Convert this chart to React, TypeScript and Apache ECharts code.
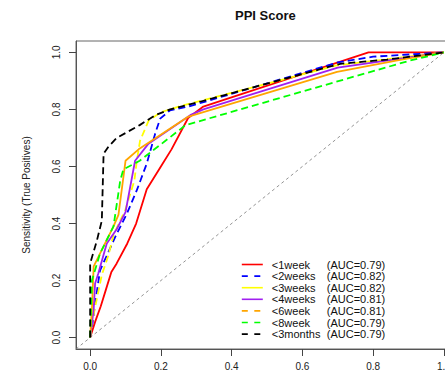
import React, { useEffect, useRef } from "react";
import * as echarts from "echarts";

const seriesNames = ["<1week", "<2weeks", "<3weeks", "<4weeks", "<6week", "<8week", "<3months"];
const aucLabels = ["(AUC=0.79)", "(AUC=0.82)", "(AUC=0.82)", "(AUC=0.81)", "(AUC=0.81)", "(AUC=0.79)", "(AUC=0.79)"];
const tickValues = [0, 0.2, 0.4, 0.6, 0.8, 1.0];

const roc1week = [[0,0],[0.014,0.055],[0.03,0.11],[0.045,0.17],[0.06,0.23],[0.075,0.26],[0.105,0.33],[0.13,0.4],[0.16,0.52],[0.2,0.6],[0.23,0.66],[0.277,0.77],[0.32,0.81],[0.787,1.0],[1,1]];
const roc2weeks = [[0,0],[0.008,0.06],[0.014,0.12],[0.028,0.236],[0.071,0.353],[0.104,0.435],[0.132,0.517],[0.16,0.61],[0.184,0.716],[0.198,0.768],[0.226,0.797],[0.278,0.81],[0.7,0.965],[0.8,0.985],[1,1]];
const roc3weeks = [[0,0],[0.005,0.05],[0.014,0.107],[0.023,0.16],[0.033,0.22],[0.052,0.29],[0.066,0.36],[0.1,0.45],[0.125,0.55],[0.132,0.62],[0.141,0.69],[0.165,0.76],[0.2,0.79],[0.25,0.81],[0.7,0.955],[1,1]];
const roc4weeks = [[0,0],[0.01,0.1],[0.014,0.19],[0.023,0.225],[0.047,0.33],[0.075,0.38],[0.1,0.44],[0.127,0.62],[0.165,0.68],[0.283,0.78],[0.32,0.8],[0.7,0.947],[1,1]];
const roc6week = [[0,0],[0.005,0.1],[0.01,0.25],[0.066,0.39],[0.08,0.43],[0.1,0.62],[0.137,0.66],[0.278,0.775],[0.698,0.932],[0.88,0.975],[1,1]];
const roc8week = [[0,0],[0.005,0.2],[0.028,0.295],[0.066,0.39],[0.085,0.55],[0.094,0.59],[0.14,0.62],[0.27,0.745],[0.9,0.97],[1,1]];
const roc3months = [[0,0],[0,0.26],[0.019,0.34],[0.033,0.41],[0.038,0.645],[0.052,0.67],[0.075,0.7],[0.14,0.745],[0.184,0.78],[0.226,0.8],[0.31,0.827],[0.707,0.96],[0.84,0.975],[1,1]];
const diagonal = [[-0.04,-0.04],[1.04,1.04]];

const curves = [roc1week, roc2weeks, roc3weeks, roc4weeks, roc6week, roc8week, roc3months];
const colors = ["#FF0000", "#0000FF", "#FFFF00", "#A020F0", "#FFA500", "#00FF00", "#000000"];
const plotDashed = [false, true, true, false, false, true, true];
const legendDashed = [false, true, false, false, true, true, true];

export default function App() {
  const ref = useRef<HTMLDivElement>(null);
  useEffect(() => {
    if (!ref.current) return;
    const chart = echarts.init(ref.current, undefined, { renderer: "svg" });
    const font = "Liberation Sans, Arial, Helvetica, sans-serif";
    const series: any[] = curves.map((d, i) => ({
      name: seriesNames[i],
      type: "line",
      data: d,
      symbol: "none",
      lineStyle: { color: colors[i], width: 1.8, type: plotDashed[i] ? [7, 4] : "solid" },
      itemStyle: { color: colors[i] },
      z: 3 + i,
    }));
    series.push({
      name: "diag",
      type: "line",
      data: diagonal,
      symbol: "none",
      silent: true,
      lineStyle: { color: "#777777", width: 0.8, type: [3, 3] },
      z: 2,
    });
    chart.setOption({
      animation: false,
      backgroundColor: "#ffffff",
      textStyle: { fontFamily: font },
      title: {
        text: "PPI Score",
        left: 235,
        top: 9,
        padding: 0,
        textStyle: { fontFamily: font, fontSize: 13, fontWeight: "bold", color: "#111" },
      },
      grid: {
        left: 76,
        top: 41,
        right: -13,
        bottom: 39,
        show: true,
        borderColor: "#666",
        borderWidth: 1,
        backgroundColor: "transparent",
        outerBoundsMode: "none",
      },
      legend: {
        orient: "vertical",
        left: 241,
        top: 259,
        itemWidth: 21,
        itemHeight: 8,
        itemGap: 0.6,
        padding: 0,
        selectedMode: false,
        data: seriesNames.map((n, i) => ({
          name: n,
          itemStyle: { opacity: 0 },
          lineStyle: { color: colors[i], width: 1.6, type: legendDashed[i] ? [6, 6.5] : "solid" },
        })),
        formatter: (name: string) => {
          const i = seriesNames.indexOf(name);
          return "{n|" + name + "}{a|" + aucLabels[i] + "}";
        },
        textStyle: {
          fontFamily: font,
          fontSize: 11,
          lineHeight: 11,
          color: "#111",
          rich: {
            n: { width: 55, padding: [0, 0, 0, 4], fontSize: 11, lineHeight: 11, fontFamily: font, color: "#111" },
            a: { fontSize: 11, lineHeight: 11, fontFamily: font, color: "#111" },
          },
        },
      },
      xAxis: {
        type: "value",
        min: -0.04,
        max: 1.04,
        name: "1 - Specificity (False Positives)",
        nameLocation: "middle",
        nameGap: 42,
        nameTextStyle: { fontFamily: font, fontSize: 10, color: "#222" },
        splitLine: { show: false },
        axisLine: { show: true, onZero: false, lineStyle: { color: "#555", width: 1 } },
        axisTick: { show: true, length: 7, customValues: tickValues, lineStyle: { color: "#444" } },
        axisLabel: {
          margin: 12,
          fontSize: 10,
          fontFamily: font,
          color: "#222",
          customValues: tickValues,
          formatter: (v: number) => v.toFixed(1),
        },
      },
      yAxis: {
        type: "value",
        min: -0.04,
        max: 1.04,
        name: "Sensitivity (True Positives)",
        nameLocation: "middle",
        nameGap: 45,
        nameRotate: 90,
        nameTextStyle: { fontFamily: font, fontSize: 10, color: "#222" },
        splitLine: { show: false },
        axisLine: { show: true, onZero: false, lineStyle: { color: "#555", width: 1 } },
        axisTick: { show: true, length: 7, customValues: tickValues, lineStyle: { color: "#444" } },
        axisLabel: {
          margin: 15,
          rotate: 90,
          fontSize: 10,
          fontFamily: font,
          color: "#222",
          customValues: tickValues,
          formatter: (v: number) => v.toFixed(1),
        },
      },
      series,
    });
    return () => chart.dispose();
  }, []);
  return (
    <div
      ref={ref}
      style={{ position: "absolute", left: 0, top: 0, width: 445, height: 388, overflow: "hidden" }}
    />
  );
}
